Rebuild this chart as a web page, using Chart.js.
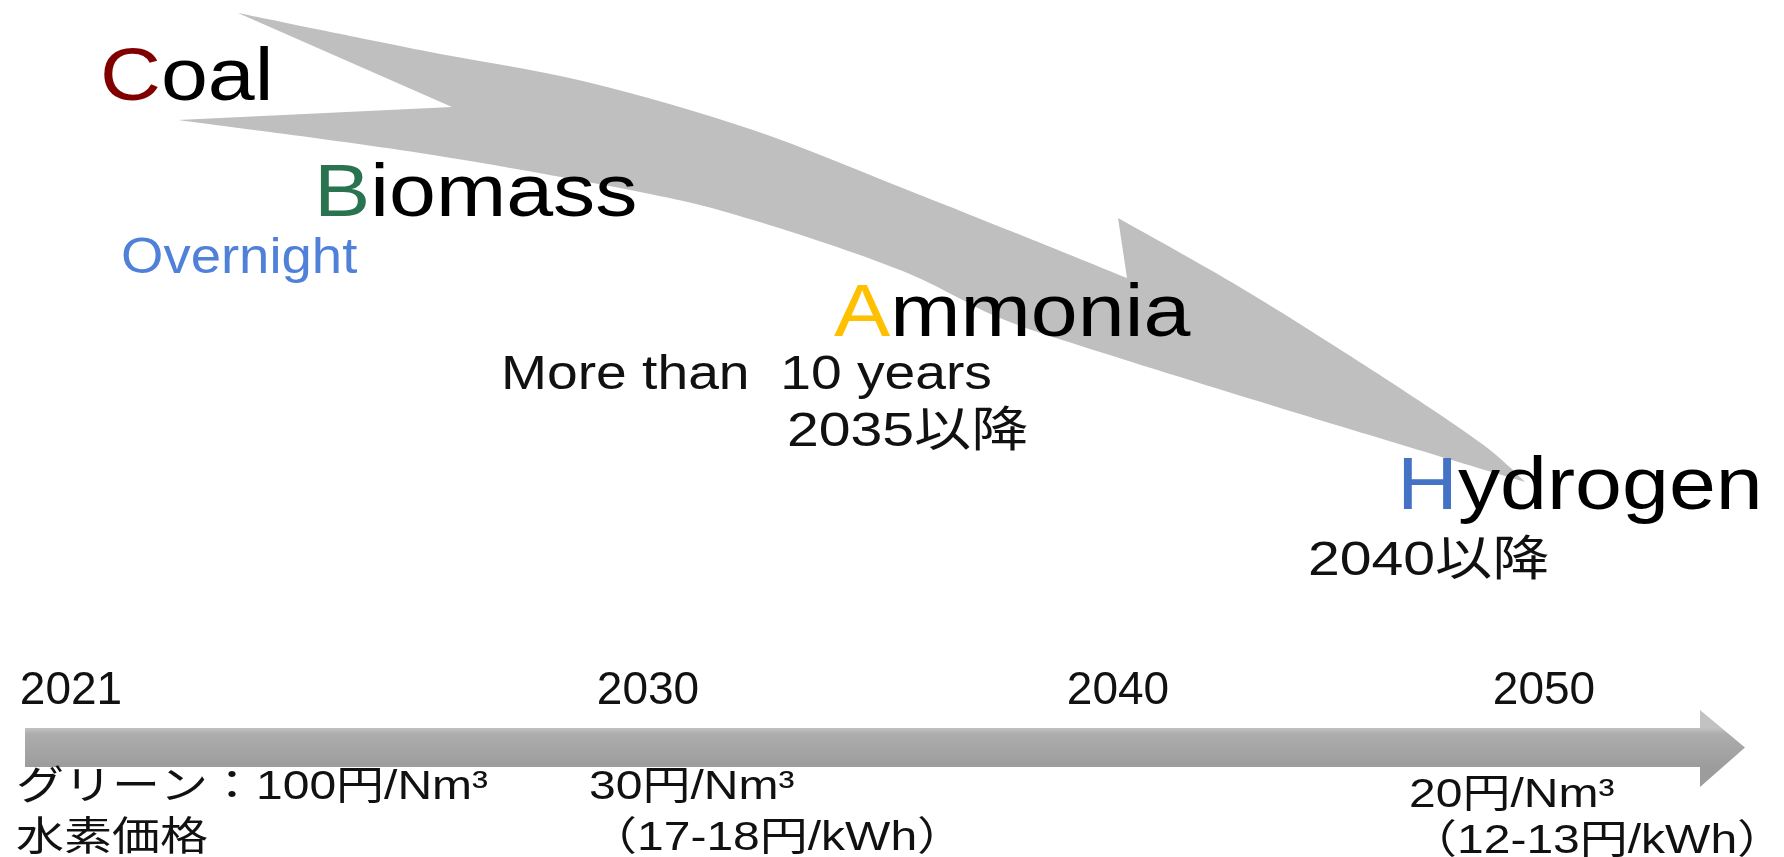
<!DOCTYPE html>
<html>
<head>
<meta charset="utf-8">
<title>Fuel transition roadmap</title>
<script src="https://cdn.jsdelivr.net/npm/chart.js@4.4.1/dist/chart.umd.min.js"></script>
<style>
  html, body { margin: 0; padding: 0; background: #fff; }
  #wrap { width: 1784px; height: 857px; position: relative; }
</style>
</head>
<body>
<div id="wrap"><canvas id="roadmap"></canvas></div>
<script>
// timeline milestones and hydrogen price targets under each one
const years = [2021, 2030, 2040, 2050];
const priceLines = [
  ['グリーン：100円/Nm³', '水素価格'],
  ['30円/Nm³', '（17-18円/kWh）'],
  [],
  ['20円/Nm³', '（12-13円/kWh）']
];

// fuel stages, in order, with their lead-time notes
const fuels = ['Coal', 'Biomass', 'Ammonia', 'Hydrogen'];
const fuelNotes = [[], ['Overnight'], ['More than  10 years', '2035以降'], ['2040以降']];

// ---- layout (board units: 1784 x 857) ----
const BOARD_W = 1784, BOARD_H = 857;
const stopAt = [71, 648, 1118, 1544];          // where each milestone sits along the bar
const yearRow = 664;                           // tick labels hang just above the bar

const initialColors = ['#800000', '#2a7350', '#ffc000', '#4472c4'];
const fuelAt = [[100, 100], [314, 216], [834, 336], [1397, 509]];
const noteAt = [[], [[121, 273]], [[501, 389], [787, 446]], [[1308, 575]]];
const noteColors = [[], ['#5080d8'], ['#111', '#111'], ['#111']];
const priceAt = [[[16, 799], [16, 850]], [[589, 799], [589, 850]], [], [[1409, 807], [1409, 853]]];

const bendArrow = {
  upper: [[238, 13], [420, 50], [587, 82], [753, 130], [900, 187], [1033, 240], [1127, 278]],
  head: [[1118, 218], [1233, 283], [1333, 345], [1430, 408], [1490, 450], [1525, 482]],
  lower: [[1525, 482], [1300, 414], [1100, 352], [1000, 318], [900, 270], [753, 220],
          [640, 192], [420, 153], [178, 120]],
  notch: [452, 107]
};
const timelineBar = { left: 25, top: 728, bottom: 767, headX: 1700, headTop: 710, headBottom: 787, tipX: 1745 };

const LATIN = '"Liberation Sans", Arial, sans-serif';
const MIXED = '"Liberation Sans", "Noto Sans CJK JP", sans-serif';

// piecewise mapping from a year to a position along the timeline
function yearToDecimal(v) {
  let i = 0;
  while (i < years.length - 2 && v > years[i + 1]) i++;
  const t = (v - years[i]) / (years[i + 1] - years[i]);
  return (stopAt[i] + t * (stopAt[i + 1] - stopAt[i])) / BOARD_W;
}
function decimalToYear(d) {
  const p = d * BOARD_W;
  let i = 0;
  while (i < stopAt.length - 2 && p > stopAt[i + 1]) i++;
  const t = (p - stopAt[i]) / (stopAt[i + 1] - stopAt[i]);
  return years[i] + t * (years[i + 1] - years[i]);
}

class TimelineScale extends Chart.LinearScale {
  static id = 'timeline';
  static defaults = Chart.LinearScale.defaults;
  getPixelForValue(value) {
    return this.getPixelForDecimal(yearToDecimal(value));
  }
  getValueForPixel(pixel) {
    return decimalToYear(this.getDecimalForPixel(pixel));
  }
}
Chart.register(TimelineScale);

// catmull-rom curve through the given points (current point = pts[0])
function curveThrough(ctx, pts) {
  for (let i = 0; i < pts.length - 1; i++) {
    const p0 = pts[i - 1] || pts[i], p1 = pts[i], p2 = pts[i + 1], p3 = pts[i + 2] || p2;
    ctx.bezierCurveTo(
      p1[0] + (p2[0] - p0[0]) / 6, p1[1] + (p2[1] - p0[1]) / 6,
      p2[0] - (p3[0] - p1[0]) / 6, p2[1] - (p3[1] - p1[1]) / 6,
      p2[0], p2[1]);
  }
}

function stretchedText(ctx, text, x, y, font, color, sx) {
  ctx.save();
  ctx.translate(x, y);
  ctx.scale(sx, 1);
  ctx.font = font;
  ctx.fillStyle = color;
  ctx.textAlign = 'left';
  ctx.textBaseline = 'alphabetic';
  ctx.fillText(text, 0, 0);
  ctx.restore();
}

const roadmapPlugin = {
  id: 'roadmap',
  beforeDraw(chart) {
    const { ctx, scales: { board, y } } = chart;
    const P = (pt) => [board.getPixelForValue(pt[0]), y.getPixelForValue(pt[1])];

    // curved transition arrow, drawn behind the labels
    ctx.save();
    ctx.fillStyle = '#bfbfbf';
    ctx.beginPath();
    const up = bendArrow.upper.map(P);
    ctx.moveTo(up[0][0], up[0][1]);
    curveThrough(ctx, up);
    const head = bendArrow.head.map(P);
    ctx.lineTo(head[0][0], head[0][1]);
    curveThrough(ctx, head);
    curveThrough(ctx, bendArrow.lower.map(P));
    const n = P(bendArrow.notch);
    ctx.lineTo(n[0], n[1]);
    ctx.closePath();
    ctx.fill();
    ctx.restore();

    // timeline bar
    const b = timelineBar;
    const [l, t] = P([b.left, b.top]);
    const [hx, bt] = P([b.headX, b.bottom]);
    const [tipX, ht] = P([b.tipX, b.headTop]);
    const hb = y.getPixelForValue(b.headBottom);
    const mid = (t + bt) / 2;
    const grad = ctx.createLinearGradient(0, t, 0, bt);
    grad.addColorStop(0, '#c2c2c2');
    grad.addColorStop(0.15, '#adadad');
    grad.addColorStop(1, '#9c9c9c');
    ctx.save();
    ctx.fillStyle = grad;
    ctx.beginPath();
    ctx.moveTo(l, t);
    ctx.lineTo(hx, t);
    ctx.lineTo(hx, ht);
    ctx.lineTo(tipX, mid);
    ctx.lineTo(hx, hb);
    ctx.lineTo(hx, bt);
    ctx.lineTo(l, bt);
    ctx.closePath();
    ctx.fill();
    ctx.restore();
  },
  afterDraw(chart) {
    const { ctx, scales: { board, y } } = chart;
    const P = (pt) => [board.getPixelForValue(pt[0]), y.getPixelForValue(pt[1])];

    // fuel names with a coloured initial
    const bigFont = '74px ' + LATIN;
    const bigSx = 1.14;
    fuels.forEach((name, i) => {
      const [x, yy] = P(fuelAt[i]);
      ctx.font = bigFont;
      const w = ctx.measureText(name[0]).width * bigSx;
      stretchedText(ctx, name[0], x, yy, bigFont, initialColors[i], bigSx);
      stretchedText(ctx, name.slice(1), x + w, yy, bigFont, '#000', bigSx);
    });

    // lead-time notes
    fuelNotes.forEach((notes, i) => {
      notes.forEach((txt, j) => {
        const [x, yy] = P(noteAt[i][j]);
        let font = '48px ' + MIXED, sx = 1.15;
        if (i === 1) { font = '50px ' + LATIN; sx = 1.09; }
        else if (/以降/.test(txt)) { sx = 1.19; }
        stretchedText(ctx, txt, x, yy, font, noteColors[i][j], sx);
      });
    });

    // price targets under the bar
    priceLines.forEach((lines, i) => {
      lines.forEach((txt, j) => {
        const [x, yy] = P(priceAt[i][j]);
        stretchedText(ctx, txt, x, yy, '40px ' + MIXED, '#111', 1.2);
      });
    });
  }
};

new Chart(document.getElementById('roadmap'), {
  type: 'scatter',
  data: { datasets: [] },
  plugins: [roadmapPlugin],
  options: {
    responsive: true,
    maintainAspectRatio: false,
    animation: false,
    layout: { padding: 0 },
    plugins: { legend: { display: false }, tooltip: { enabled: false }, title: { display: false } },
    scales: {
      x: {
        type: 'timeline',
        position: { y: yearRow },
        min: 2019,
        max: 2054,
        grid: { display: false, drawTicks: false },
        border: { display: false },
        afterBuildTicks: (scale) => { scale.ticks = years.map(v => ({ value: v })); },
        afterFit: (scale) => { scale.paddingLeft = 0; scale.paddingRight = 0; },
        ticks: {
          padding: 0,
          autoSkip: false,
          maxRotation: 0,
          color: '#111',
          font: { family: 'Liberation Sans', size: 46 },
          callback: (v) => String(v)
        }
      },
      board: { type: 'linear', axis: 'x', min: 0, max: BOARD_W, display: false },
      y: { type: 'linear', min: 0, max: BOARD_H, reverse: true, display: false }
    }
  }
});
</script>
</body>
</html>
